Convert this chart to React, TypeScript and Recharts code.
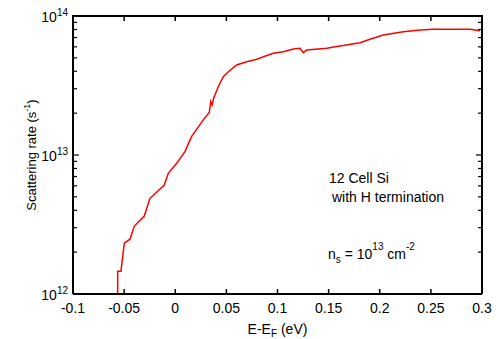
import { LineChart, Line, XAxis, YAxis } from 'recharts'

// E - E_F (eV) and scattering rate (units of 1e12 s^-1)
const energy = [
  -0.0563, -0.0563, -0.0531, -0.0498, -0.0443, -0.04, -0.0303, -0.0247, -0.0107, -0.0068,
  0.0014, 0.0095, 0.0144, 0.0161, 0.0274, 0.0333, 0.0347, 0.036, 0.0376, 0.0421,
  0.047, 0.0519, 0.0601, 0.0699, 0.0797, 0.091, 0.0959, 0.1057, 0.1155, 0.122,
  0.1252, 0.1286, 0.1481, 0.1611, 0.1807, 0.1904, 0.2035, 0.223, 0.2394, 0.2524,
  0.2883, 0.298,
]
const rate = [
  1.0, 1.46, 1.46, 2.32, 2.48, 3.08, 3.64, 4.88, 6.08, 7.38,
  8.71, 10.57, 12.8, 13.6, 17.9, 20.2, 24.2, 22.9, 25.7, 31.0,
  36.6, 39.7, 44.4, 46.9, 48.8, 52.4, 53.9, 55.4, 57.9, 58.6,
  54.5, 56.9, 58.6, 60.9, 64.3, 68.0, 72.9, 77.1, 79.3, 80.2,
  80.2, 78.4,
]

const xTicks = [-0.1, -0.05, 0, 0.05, 0.1, 0.15, 0.2, 0.25, 0.3]
const decadeTicks = [1e12, 1e13, 1e14]
const yTicks = [
  1e12, 2e12, 3e12, 4e12, 5e12, 6e12, 7e12, 8e12, 9e12,
  1e13, 2e13, 3e13, 4e13, 5e13, 6e13, 7e13, 8e13, 9e13,
  1e14,
]

const data = energy.map((e, i) => ({ e, rate: rate[i] * 1e12 }))

const FONT = '"Liberation Sans", Arial, sans-serif'
const MARGIN = { top: 16, right: 4, left: 0, bottom: 0 }
const W = 496
const H = 339
const Y_W = 73
const YR_W = 10
const PLOT_L = Y_W
const PLOT_R = W - YR_W - MARGIN.right
const PLOT_T = MARGIN.top

function BottomTick({ x, y, payload }: any) {
  return (
    <g>
      <line x1={x} y1={y} x2={x} y2={y - 5} stroke="#000" strokeWidth={1.5} />
      <text x={x} y={y + 19} textAnchor="middle" fontSize={14} fontFamily={FONT} fill="#000">
        {String(payload.value)}
      </text>
    </g>
  )
}

function LeftTick({ x, y, payload }: any) {
  const v = payload.value
  const major = decadeTicks.includes(v)
  return (
    <g>
      <line x1={x} y1={y} x2={x + (major ? 6 : 4)} y2={y} stroke="#000" strokeWidth={1.2} />
      {major && (
        <text x={x - 5} y={y + 5.5} textAnchor="end" fontFamily={FONT} fill="#000">
          <tspan fontSize={14}>10</tspan>
          <tspan fontSize={10} dy={-5.5}>{Math.round(Math.log10(v))}</tspan>
        </text>
      )}
    </g>
  )
}

function RightTick({ x, y, payload }: any) {
  const major = decadeTicks.includes(payload.value)
  return <line x1={x} y1={y} x2={x - (major ? 6 : 4)} y2={y} stroke="#000" strokeWidth={1.2} />
}

function YTitle({ viewBox }: any) {
  const cy = viewBox.y + viewBox.height / 2
  const cx = 36
  return (
    <text x={cx} y={cy} transform={`rotate(-90 ${cx} ${cy})`} textAnchor="middle" fontFamily={FONT} fill="#000">
      <tspan fontSize={13}>Scattering rate (s</tspan>
      <tspan fontSize={9} dy={-6}>-1</tspan>
      <tspan fontSize={13} dy={6}>)</tspan>
    </text>
  )
}

function XTitle({ viewBox }: any) {
  const cx = viewBox.x + viewBox.width / 2
  return (
    <text x={cx} y={334} textAnchor="middle" fontFamily={FONT} fill="#000">
      <tspan fontSize={14}>E-E</tspan>
      <tspan fontSize={10} dy={3}>F</tspan>
      <tspan fontSize={14} dy={-3}> (eV)</tspan>
    </text>
  )
}

export default function App() {
  const xPix = (v: number) => PLOT_L + ((v - xTicks[0]) / (xTicks[xTicks.length - 1] - xTicks[0])) * (PLOT_R - PLOT_L)
  return (
    <div style={{ position: 'absolute', left: 0, top: 0, width: W, height: H }}>
      <LineChart width={W} height={H} data={data} margin={MARGIN}>
        <XAxis
          dataKey="e"
          type="number"
          domain={[-0.1, 0.3]}
          ticks={xTicks}
          interval={0}
          allowDataOverflow
          height={45}
          axisLine={{ stroke: '#000', strokeWidth: 2 }}
          tickLine={false}
          tickSize={0}
          tickMargin={0}
          tick={<BottomTick />}
          label={{ content: (p: any) => <XTitle {...p} /> }}
        />
        <YAxis
          scale="log"
          type="number"
          domain={[1e12, 1e14]}
          ticks={yTicks}
          interval={0}
          allowDataOverflow
          width={Y_W}
          axisLine={{ stroke: '#000', strokeWidth: 2 }}
          tickLine={false}
          tickSize={0}
          tickMargin={0}
          tick={<LeftTick />}
          label={{ content: (p: any) => <YTitle {...p} /> }}
        />
        <YAxis
          yAxisId="right"
          orientation="right"
          scale="log"
          type="number"
          domain={[1e12, 1e14]}
          ticks={yTicks}
          interval={0}
          allowDataOverflow
          width={YR_W}
          axisLine={{ stroke: '#000', strokeWidth: 2 }}
          tickLine={false}
          tickSize={0}
          tickMargin={0}
          tick={<RightTick />}
        />
        <Line
          yAxisId="right"
          dataKey="rate"
          stroke="none"
          dot={false}
          activeDot={false}
          isAnimationActive={false}
        />
        <Line
          type="linear"
          dataKey="rate"
          stroke="#ff0000"
          strokeWidth={1.5}
          dot={false}
          activeDot={false}
          isAnimationActive={false}
        />
      </LineChart>
      <svg width={W} height={H} style={{ position: 'absolute', left: 0, top: 0, pointerEvents: 'none' }}>
        {/* top frame edge with its inward ticks */}
        <line x1={PLOT_L - 1} y1={PLOT_T} x2={PLOT_R + 1} y2={PLOT_T} stroke="#000" strokeWidth={2} />
        {xTicks.map((v) => (
          <line key={v} x1={xPix(v)} y1={PLOT_T} x2={xPix(v)} y2={PLOT_T + 5} stroke="#000" strokeWidth={1.5} />
        ))}
        <g fontFamily={FONT} fill="#000" fontSize={14}>
          <text x={329} y={183}>12 Cell Si</text>
          <text x={332} y={202}>with H termination</text>
          <text x={328} y={259}>
            <tspan>n</tspan>
            <tspan fontSize={10} dy={4}>s</tspan>
            <tspan dy={-4}> = 10</tspan>
            <tspan fontSize={10} dy={-9}>13</tspan>
            <tspan dy={9}> cm</tspan>
            <tspan fontSize={10} dy={-9}>-2</tspan>
          </text>
        </g>
      </svg>
    </div>
  )
}
